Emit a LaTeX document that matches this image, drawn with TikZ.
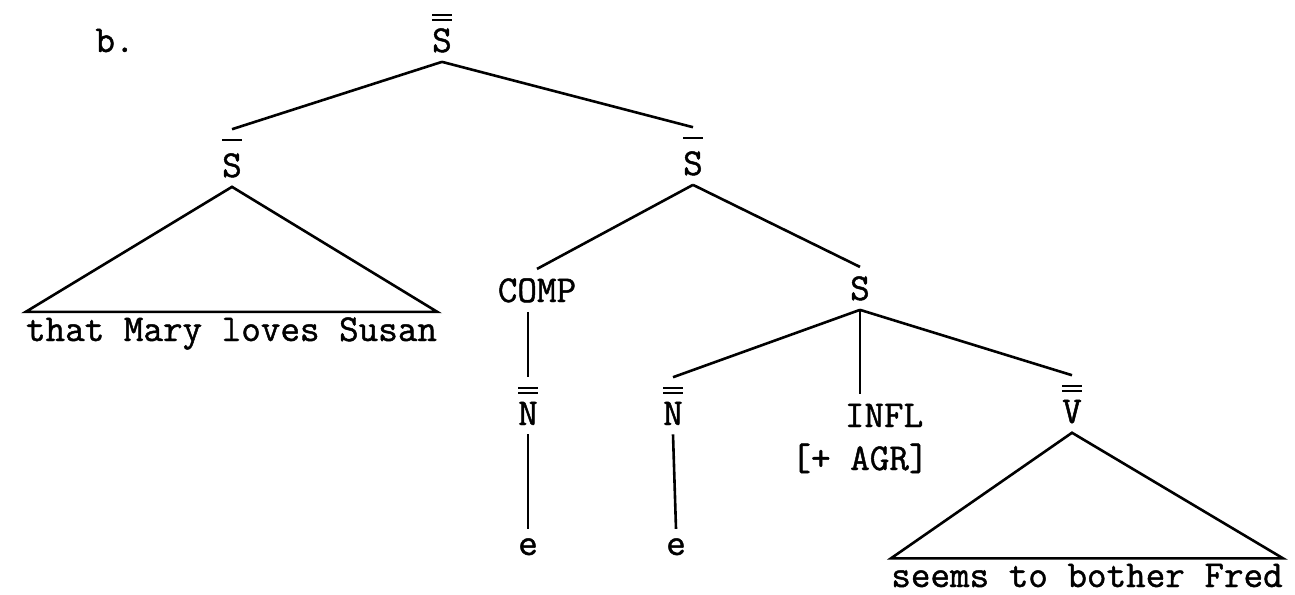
\documentclass[tikz,border=0pt]{standalone}
\usepackage{fontspec}
\usepackage{tikz}
\usetikzlibrary{positioning, calc}
\newfontfamily\labelfont[FakeBold=1.2]{Latin Modern Mono}
% bars over category letters
\newcommand{\onebar}[1]{\leavevmode\rlap{\rule[0.95em]{0.525em}{0.06em}}#1}
\newcommand{\twobar}[1]{\leavevmode\rlap{\rule[0.82em]{0.525em}{0.06em}}\rlap{\rule[0.95em]{0.525em}{0.06em}}#1}
\tikzset{
  cat/.style={inner sep=4.5pt, anchor=base, font=\labelfont\fontsize{19}{22}\selectfont},
  leaf/.style={inner xsep=0pt, inner ysep=2.5pt, anchor=base, font=\labelfont\fontsize{19}{22}\selectfont},
  branch/.style={line width=1.3pt}
}
\begin{document}
\begin{tikzpicture}[x=0.5pt, y=-0.5pt]
  \useasboundingbox (0,0) rectangle (1295,594);
  \node[cat, anchor=base west] (blabel) at (86,52) {b.};
  \node[cat] (root) at (442,52) {\twobar{S}};
  \node[cat] (sbarL) at (232,177) {\onebar{S}};
  \node[cat] (sbarR) at (693,175) {\onebar{S}};
  \node[leaf] (leafL) at (231.5,341) {that Mary loves Susan};
  \node[cat] (comp) at (537,302) {COMP};
  \node[cat] (sn) at (860,300) {S};
  \node[cat] (nbarL) at (528,425) {\twobar{N}};
  \node[cat] (nbarR) at (673,425) {\twobar{N}};
  \node[cat] (infl) at (884,427) {INFL};
  \node[cat] (agr) at (860,470) {[+ AGR]};
  \node[cat] (vbar) at (1072,423) {\twobar{V}};
  \node[cat] (eL) at (528,555) {e};
  \node[cat] (eR) at (676,555) {e};
  \node[leaf] (leafR) at (1087,587) {seems to bother Fred};
  \draw[branch] (root.south) -- (sbarL.north);
  \draw[branch] (root.south) -- (sbarR.north);
  \draw[branch] (leafL.north west) -- (sbarL.south) -- (leafL.north east) -- cycle;
  \draw[branch] (sbarR.south) -- (comp.north);
  \draw[branch] (sbarR.south) -- (sn.north);
  \draw[branch] (comp.south -| nbarL.north) -- (nbarL.north);
  \draw[branch] (nbarL.south) -- (eL.north);
  \draw[branch] (sn.south) -- (nbarR.north);
  \draw[branch] (sn.south) -- (sn.south |- infl.north);
  \draw[branch] (sn.south) -- (vbar.north);
  \draw[branch] (nbarR.south) -- (eR.north);
  \draw[branch] (leafR.north west) -- (vbar.south) -- (leafR.north east) -- cycle;
\end{tikzpicture}
\end{document}
